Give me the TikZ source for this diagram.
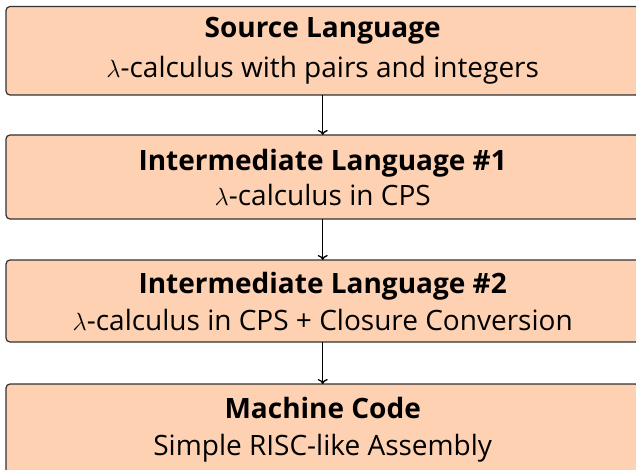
\documentclass[tikz,border=0pt]{standalone}
\usepackage{fontspec}
\setmainfont{Open Sans}
\usetikzlibrary{arrows.meta}
\definecolor{boxfill}{RGB}{253,209,178}
\definecolor{boxline}{RGB}{50,50,50}
\begin{document}
\begin{tikzpicture}[x=1pt,y=-1pt,
  stage/.style={draw=boxline,line width=1.2pt,fill=boxfill,rounded corners=4pt},
  title/.style={anchor=base,font=\fontsize{28}{32}\selectfont\bfseries,inner sep=0pt},
  sub/.style={anchor=base,font=\fontsize{28}{32}\selectfont,inner sep=0pt},
  flow/.style={draw=black,line width=1.3pt,-{To[length=5pt,width=10pt]}}]
\useasboundingbox (0,0) rectangle (636,470);
\clip (0,0) rectangle (636,470);
% stage boxes
\path[stage] (6,6.5) rectangle (639.5,95);
\coordinate (b1b) at (322.7,95);
\path[stage] (6,135) rectangle (639.5,219);
\coordinate (b2t) at (322.7,135); \coordinate (b2b) at (322.7,219);
\path[stage] (6,260) rectangle (639.5,342);
\coordinate (b3t) at (322.7,260); \coordinate (b3b) at (322.7,342);
\path[stage] (6,384) rectangle (639.5,480);
\coordinate (b4t) at (322.7,384);
% labels
\node[title] (t1) at (322.7,38) {Source Language};
\node[sub]   (s1) at (322.7,78) {$\lambda$-calculus with pairs and integers};
\node[title] (t2) at (322.7,171) {Intermediate Language \#1};
\node[sub]   (s2) at (322.7,206) {$\lambda$-calculus in CPS};
\node[title] (t3) at (322.7,293) {Intermediate Language \#2};
\node[sub]   (s3) at (322.7,330) {$\lambda$-calculus in CPS + Closure Conversion};
\node[title] (t4) at (322.7,418) {Machine Code};
\node[sub]   (s4) at (322.7,455) {Simple RISC-like Assembly};
% connectors
\draw[flow] (b1b) -- (b2t);
\draw[flow] (b2b) -- (b3t);
\draw[flow] (b3b) -- (b4t);
\end{tikzpicture}
\end{document}
